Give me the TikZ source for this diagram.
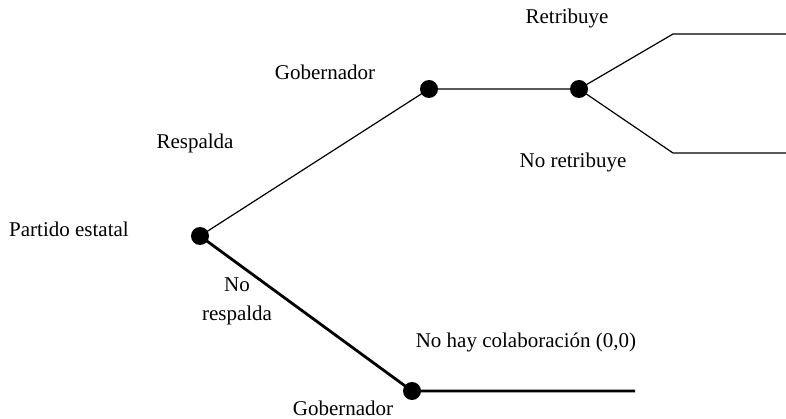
\documentclass[tikz,border=0pt]{standalone}
\usepackage{fontspec}
\setmainfont{Liberation Serif}
\usepackage{tikz}
\tikzstyle{dot}=[circle,fill,inner sep=0pt,minimum size=18pt]
\tikzstyle{lbl}=[inner sep=0pt,font=\fontsize{21}{25}\selectfont,align=center]
\tikzstyle{br}=[line width=1.2pt]
\tikzstyle{brt}=[line width=2.8pt]
\begin{document}
\begin{tikzpicture}[x=1pt,y=-1pt]
	\useasboundingbox (0,0) rectangle (786,419);
	\node[dot] (ps)  at (200,236) {};
	\node[dot] (g1)  at (429,89)  {};
	\node[dot] (g1r) at (579,89)  {};
	\node[dot] (g2)  at (412,391) {};
	\coordinate (rt1) at (673,34);  \coordinate (rt2) at (786,34);
	\coordinate (nr1) at (673,153); \coordinate (nr2) at (786,153);
	\coordinate (nc)  at (635,391);
	\draw[br]  (ps.center) -- (g1.center) -- (g1r.center);
	\draw[br]  (g1r.center) -- (rt1) -- (rt2);
	\draw[br]  (g1r.center) -- (nr1) -- (nr2);
	\draw[brt] (ps.center) -- (g2.center) -- (nc);
	\node[lbl] (l-ps)  at (69,229)  {Partido estatal};
	\node[lbl] (l-rs)  at (195,143) {Respalda};
	\node[lbl] (l-g1)  at (325,72)  {Gobernador};
	\node[lbl] (l-rt)  at (567,18)  {Retribuye};
	\node[lbl] (l-nr)  at (573,162) {No retribuye};
	\node[lbl] (l-nrs) at (237,301) {No\\[4pt]respalda};
	\node[lbl] (l-nc)  at (526,342) {No hay colaboración (0,0)};
	\node[lbl] (l-g2)  at (343,408) {Gobernador};
\end{tikzpicture}
\end{document}
